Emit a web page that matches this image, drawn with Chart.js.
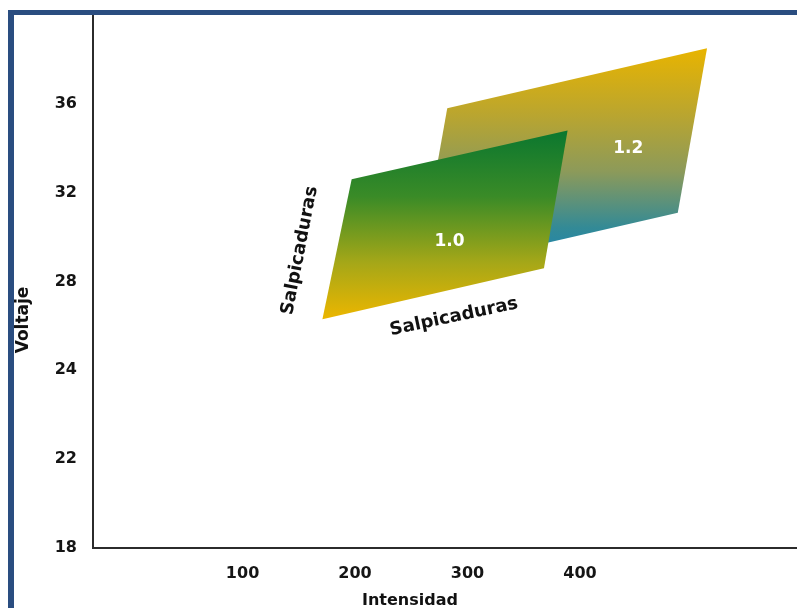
<!DOCTYPE html>
<html>
<head>
<meta charset="utf-8">
<title>Voltaje / Intensidad</title>
<script src="https://cdn.jsdelivr.net/npm/chart.js@4"></script>
<style>
  html, body { margin: 0; padding: 0; background: #fff; }
  #wrap { width: 797px; height: 608px; }
</style>
</head>
<body>
<div id="wrap"><canvas id="chart" width="797" height="608"></canvas></div>
<script>
// tick labels (the voltage axis is evenly spaced between its labels)
const voltTicks = [18, 22, 24, 28, 32, 36];
const ampTicks = [100, 200, 300, 400];

// corners of each zone: intensidad (A) and voltaje (V)
const zone10Amp = [197, 389, 368, 171];
const zone10Volt = [32.6, 34.8, 28.6, 26.3];
const zone12Amp = [282, 513, 487, 256];
const zone12Volt = [35.8, 38.5, 31.1, 28.4];

// zone names and where they sit
const zoneNames = ["1.0", "1.2"];
const zoneLabelAmp = [284, 443];
const zoneLabelVolt = [29.8, 34.0];

// "Salpicaduras" notes along the edges of zone 1.0
const splashText = ["Salpicaduras", "Salpicaduras"];
const splashAmp = [151, 288];
const splashVolt = [29.4, 26.4];


// Map a voltage to its place on the axis (even steps between tick labels)
function voltPos(v) {
    const last = voltTicks.length - 2;
    for (let i = 0; i <= last; i++) {
        if (v <= voltTicks[i + 1] || i === last) {
            return i + (v - voltTicks[i]) / (voltTicks[i + 1] - voltTicks[i]);
        }
    }
}

function zonePoints(amps, volts) {
    const pts = amps.map((a, i) => ({ x: a, y: voltPos(volts[i]) }));
    pts.push(pts[0]); // close the shape
    return pts;
}

// vertical gradient over the height of a zone
function zoneGradient(volts, stops) {
    return (context) => {
        const chart = context.chart;
        if (!chart.chartArea) return stops[0][1];
        const y = chart.scales.y;
        const top = y.getPixelForValue(voltPos(Math.max(...volts)));
        const bottom = y.getPixelForValue(voltPos(Math.min(...volts)));
        const g = chart.ctx.createLinearGradient(0, top, 0, bottom);
        stops.forEach(s => g.addColorStop(s[0], s[1]));
        return g;
    };
}

const FONT = '"DejaVu Sans", "Liberation Sans", sans-serif';

/* texts, axis titles and the blue frame */
const decorations = {
    id: "decorations",
    afterDatasetsDraw(chart) {
        const { ctx, scales: { x, y } } = chart;
        ctx.save();
        ctx.textAlign = "center";
        ctx.textBaseline = "middle";

        ctx.fillStyle = "#ffffff";
        ctx.font = "bold 17px " + FONT;
        zoneNames.forEach((name, i) => {
            ctx.fillText(name, x.getPixelForValue(zoneLabelAmp[i]), y.getPixelForValue(voltPos(zoneLabelVolt[i])));
        });

        const angles = [-79, -12];
        ctx.fillStyle = "#111111";
        ctx.font = "bold 18px " + FONT;
        splashText.forEach((t, i) => {
            ctx.save();
            ctx.translate(x.getPixelForValue(splashAmp[i]), y.getPixelForValue(voltPos(splashVolt[i])));
            ctx.rotate(angles[i] * Math.PI / 180);
            ctx.fillText(t, 0, 0);
            ctx.restore();
        });
        ctx.restore();
    },
    afterDraw(chart) {
        const ctx = chart.ctx;
        ctx.save();
        ctx.fillStyle = "#111111";
        ctx.textAlign = "center";
        ctx.textBaseline = "middle";
        ctx.font = "bold 16px " + FONT;
        ctx.fillText("Intensidad", 410, 601);

        ctx.save();
        ctx.translate(24, 320);
        ctx.rotate(-Math.PI / 2);
        ctx.font = "bold 17px " + FONT;
        ctx.fillText("Voltaje", 0, 0);
        ctx.restore();

        // frame
        ctx.fillStyle = "#2a4d80";
        ctx.fillRect(8, 10, 6, chart.height - 10);
        ctx.fillRect(8, 10, chart.width - 8, 5);
        ctx.restore();
    }
};

new Chart(document.getElementById("chart"), {
    type: "scatter",
    data: {
        datasets: [
            {
                label: "1.0",
                data: zonePoints(zone10Amp, zone10Volt),
                showLine: true,
                fill: "shape",
                order: 0,
                borderWidth: 0,
                borderColor: "rgba(0,0,0,0)",
                pointRadius: 0,
                backgroundColor: zoneGradient(zone10Volt, [
                    [0, "#0b772f"], [0.35, "#3a8b27"], [0.7, "#a5a718"], [1, "#ecb600"]
                ])
            },
            {
                label: "1.2",
                data: zonePoints(zone12Amp, zone12Volt),
                showLine: true,
                fill: "shape",
                order: 1,
                borderWidth: 0,
                borderColor: "rgba(0,0,0,0)",
                pointRadius: 0,
                backgroundColor: zoneGradient(zone12Volt, [
                    [0, "#e8b400"], [0.3, "#b9a530"], [0.55, "#8c9a5a"], [0.8, "#338a96"], [1, "#1482bc"]
                ])
            }
        ]
    },
    options: {
        responsive: false,
        animation: false,
        events: [],
        layout: { padding: { top: 15, right: 0, bottom: 0, left: 0 } },
        plugins: {
            legend: { display: false },
            tooltip: { enabled: false }
        },
        scales: {
            x: {
                type: "linear",
                min: -33,
                max: 593,
                grid: { display: false, drawTicks: false },
                border: { display: true, color: "#2b2b2b", width: 2 },
                afterBuildTicks: (scale) => { scale.ticks = ampTicks.map(v => ({ value: v })); },
                afterFit: (scale) => {
                    scale.height = 60;
                    scale.paddingLeft = 0;
                    scale.paddingRight = 0;
                },
                ticks: {
                    padding: 16,
                    color: "#151515",
                    font: { family: FONT, weight: "bold", size: 16 },
                    maxRotation: 0
                }
            },
            y: {
                type: "linear",
                min: 0,
                max: 6,
                grid: { display: false, drawTicks: false },
                border: { display: true, color: "#2b2b2b", width: 2 },
                afterBuildTicks: (scale) => { scale.ticks = voltTicks.map((v, i) => ({ value: i })); },
                afterFit: (scale) => {
                    scale.width = 93;
                    scale.paddingTop = 0;
                    scale.paddingBottom = 0;
                },
                ticks: {
                    padding: 16,
                    color: "#151515",
                    font: { family: FONT, weight: "bold", size: 16 },
                    callback: (value) => voltTicks[value]
                }
            }
        }
    },
    plugins: [decorations]
});
</script>
</body>
</html>
